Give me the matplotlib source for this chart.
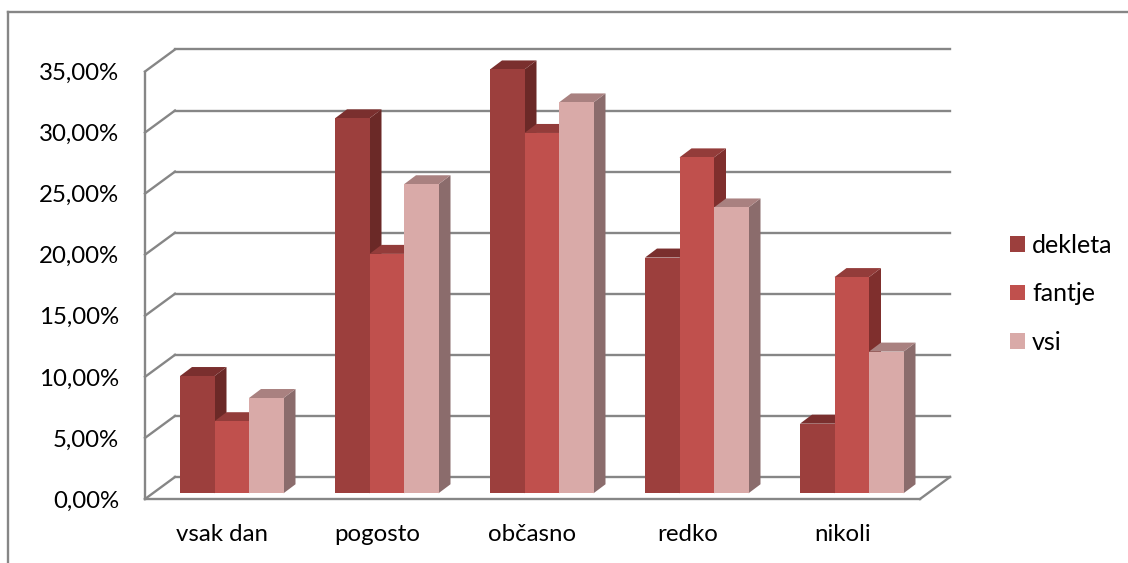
import matplotlib
matplotlib.use("Agg")
import matplotlib.pyplot as plt
from matplotlib.lines import Line2D
from matplotlib.patches import Patch, Polygon

categories = ["vsak dan", "pogosto", "občasno", "redko", "nikoli"]
dekleta = [9.6, 30.7, 34.7, 19.3, 5.7]
fantje = [5.9, 19.6, 29.5, 27.5, 17.7]
vsi = [7.8, 25.3, 32.0, 23.4, 11.6]
ticks = [0, 5, 10, 15, 20, 25, 30, 35]
tick_labels = ["0,00%", "5,00%", "10,00%", "15,00%", "20,00%", "25,00%", "30,00%", "35,00%"]

W, H = 1128, 563
GREY = "#868686"
LW = 1.7

plt.rcParams["font.family"] = ["Lato", "DejaVu Sans"]
plt.rcParams["font.size"] = 17.3

fig = plt.figure(figsize=(W / 100, H / 100), dpi=100)
ax = fig.add_axes([145 / W, 1 - 499 / H, 775 / W, 427.5 / H])
ax.set_xlim(0, 5)
ax.set_ylim(0, 35)

# chart frame, only top and left show
fig.add_artist(Line2D([8 / W, 1], [1 - 12 / H, 1 - 12 / H], color=GREY, lw=LW))
fig.add_artist(Line2D([8 / W, 8 / W], [0, 1 - 12 / H], color=GREY, lw=LW))

# depth of the walls and of the bars, in data units
wall_dx = 30 / 155
wall_dy = 22 / 12.2
bar_dx = 12 / 155
bar_dy = 9 / 12.2
base = 5.7 / 12.2

# back wall and left wall grid
for t in ticks:
    ax.plot([0, wall_dx], [t, t + wall_dy], color=GREY, lw=LW, clip_on=False, zorder=1)
    ax.plot([wall_dx, 5 + wall_dx], [t + wall_dy, t + wall_dy], color=GREY, lw=LW, clip_on=False, zorder=1)
ax.plot([5, 5 + wall_dx], [0, wall_dy], color=GREY, lw=LW, clip_on=False, zorder=1)

series = [
    ("dekleta", dekleta, "#9C3F3D", "#6B2927", "#7A2F2E"),
    ("fantje", fantje, "#C0504D", "#7F2F2D", "#933C3A"),
    ("vsi", vsi, "#D9AAA8", "#8B6C6C", "#A98180"),
]
bar_w = 34.5 / 155
first = 35 / 155

z = 2
for i in range(len(categories)):
    for j, (name, values, front, side, top) in enumerate(series):
        x0 = i + first + j * bar_w
        x1 = x0 + bar_w
        y1 = base + values[i]
        ax.add_patch(Polygon([(x1, base), (x1 + bar_dx, base + bar_dy), (x1 + bar_dx, y1 + bar_dy), (x1, y1)],
                             fc=side, ec="none", clip_on=False, zorder=z))
        ax.add_patch(Polygon([(x0, y1), (x0 + bar_dx, y1 + bar_dy), (x1 + bar_dx, y1 + bar_dy), (x1, y1)],
                             fc=top, ec="none", clip_on=False, zorder=z))
        ax.add_patch(Polygon([(x0, base), (x1, base), (x1, y1), (x0, y1)],
                             fc=front, ec="none", clip_on=False, zorder=z + 0.5))
        z += 1

for s in ["top", "right"]:
    ax.spines[s].set_visible(False)
for s in ["left", "bottom"]:
    ax.spines[s].set_color(GREY)
    ax.spines[s].set_linewidth(LW)

ax.set_yticks(ticks)
ax.set_yticklabels(tick_labels)
ax.set_xticks([i + 0.5 for i in range(len(categories))])
ax.set_xticklabels(categories)
ax.tick_params(axis="y", length=0, pad=18.7, labelcolor="black")
ax.tick_params(axis="x", length=0, pad=18, labelcolor="black")

handles = [Patch(fc=s[2], ec="none", label=s[0]) for s in series]
fig.legend(handles=handles, loc="upper left", bbox_to_anchor=(1010 / W, 1 - 234 / H), frameon=False, fontsize=18,
           borderpad=0, borderaxespad=0, handlelength=0.6, handleheight=0.6, handletextpad=0.28, labelspacing=1.01)

fig.savefig("out.png", dpi=100)
